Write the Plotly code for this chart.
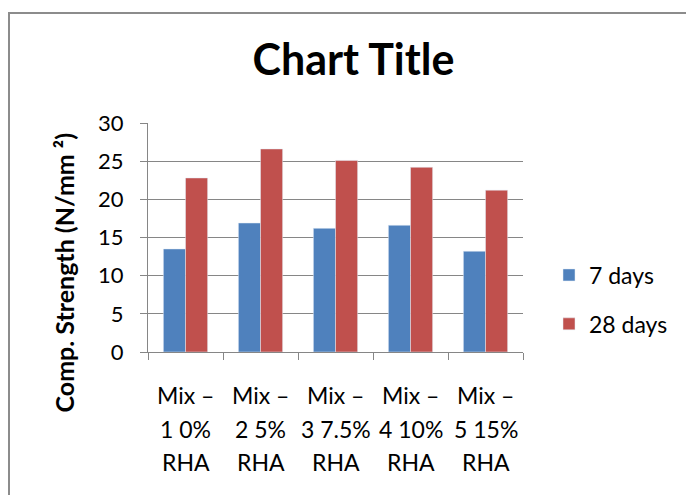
import plotly.graph_objects as go

categories = ["Mix – 1 0% RHA", "Mix – 2 5% RHA", "Mix – 3 7.5% RHA", "Mix – 4 10% RHA", "Mix – 5 15% RHA"]
label_lines = [["Mix –", "1 0%", "RHA"], ["Mix –", "2 5%", "RHA"], ["Mix –", "3 7.5%", "RHA"],
               ["Mix –", "4 10%", "RHA"], ["Mix –", "5 15%", "RHA"]]
days7 = [13.5, 16.9, 16.2, 16.6, 13.2]
days28 = [22.8, 26.6, 25.1, 24.2, 21.2]
yticks = [0, 5, 10, 15, 20, 25, 30]

FONT = "Lato"
W, H = 686, 495
L, R, T, B = 148, 523, 123, 352

fig = go.Figure()
fig.add_trace(go.Bar(x=categories, y=days7, name="7 days", marker_color="#4F81BD", legendgroup="a"))
fig.add_trace(go.Bar(x=categories, y=days28, name="28 days", marker_color="#C0504D", legendgroup="b"))

pw = R - L
ph = B - T

annotations = []
for cat, lines in zip(categories, label_lines):
    for i, ln in enumerate(lines):
        annotations.append(dict(x=cat, xref="x", y=0, yref="y", text=ln, showarrow=False,
                                yanchor="middle", xanchor="center", yshift=-(43 + 33.5 * i),
                                font=dict(family=FONT, size=23, color="black")))
annotations.append(dict(x=(63 - L) / pw, xref="paper", y=(B - 272.5) / ph, yref="paper",
                        text="<b>Comp. Strength (N/mm ²)</b>", textangle=-90, showarrow=False,
                        xanchor="center", yanchor="middle",
                        font=dict(family=FONT, size=25, color="black")))

fig.update_layout(
    width=W, height=H,
    margin=dict(l=L, r=W - R, t=T, b=H - B, pad=0),
    paper_bgcolor="white", plot_bgcolor="white",
    barmode="group", bargap=0.41, bargroupgap=0,
    title=dict(text="<b>Chart Title</b>", x=353.5 / W, xanchor="center", xref="container",
               y=1 - 60 / H, yanchor="middle", yref="container",
               font=dict(family=FONT, size=43, color="black")),
    font=dict(family=FONT, size=23, color="black"),
    showlegend=True,
    xaxis=dict(type="category", showline=True, linecolor="#868686", linewidth=1,
               ticks="outside", ticklen=7, tickcolor="#868686", tickson="boundaries",
               showticklabels=False, showgrid=False, zeroline=False),
    yaxis=dict(range=[0, 30], tickvals=yticks, showline=True, linecolor="#868686", linewidth=1,
               ticks="outside", ticklen=7, tickcolor="#868686", showgrid=True,
               gridcolor="#868686", gridwidth=1, zeroline=False, ticklabelstandoff=12,
               tickfont=dict(family=FONT, size=22)),
    legend=dict(x=(549 - L) / pw, y=(B - 299.5) / ph, xanchor="left", yanchor="middle",
                font=dict(family=FONT, size=23), tracegroupgap=16, traceorder="grouped",
                bgcolor="rgba(0,0,0,0)"),
    annotations=annotations,
    shapes=[dict(type="rect", xref="paper", yref="paper",
                 x0=(9 - L) / pw, x1=(W + 20 - L) / pw,
                 y0=(B - (H + 20)) / ph, y1=(B - 13) / ph,
                 line=dict(color="#8C8C8C", width=2), fillcolor="rgba(0,0,0,0)", layer="below")],
)

fig.write_html("out.html")
